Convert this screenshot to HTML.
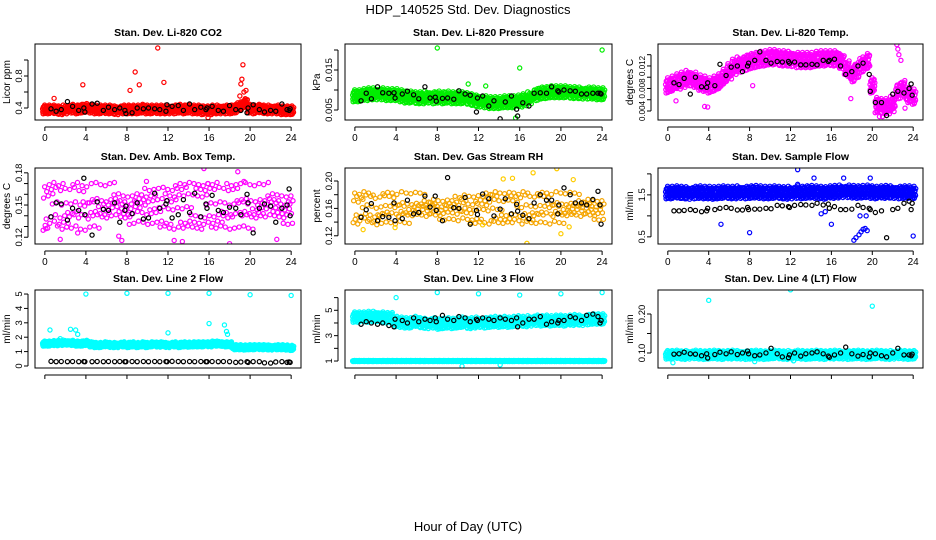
<!DOCTYPE html>
<html><head><meta charset="utf-8"><style>
body{margin:0;background:#fff;}
svg{display:block;font-family:"Liberation Sans",Arial,sans-serif;}
</style></head><body>
<svg id="chart" width="936" height="540" viewBox="0 0 936 540" xmlns="http://www.w3.org/2000/svg">
<rect width="936" height="540" fill="#fff"/>
<text x="468" y="14" font-size="13" text-anchor="middle">HDP_140525  Std. Dev. Diagnostics</text>
<text x="468" y="531" font-size="13" text-anchor="middle">Hour of Day (UTC)</text>
</svg>
<script>
// ---- data ----
const xTicks=[0,4,8,12,16,20,24];
const blackHours=[0.6,1.1,1.6,2.2,2.7,3.3,3.8,3.9,4.6,5.1,5.7,6.2,6.8,7.3,7.8,7.9,8.5,9.0,9.6,10.1,10.7,11.2,11.8,11.9,12.4,13.0,13.5,14.1,14.6,15.2,15.7,15.8,16.3,16.9,17.4,18.0,18.6,19.1,19.7,19.8,20.3,20.9,21.4,22.0,22.5,23.1,23.6,23.8,23.9];

const co2Center=[0.38,0.38,0.38,0.37,0.38,0.39,0.38,0.39,0.40,0.39,0.38,0.38,0.38,0.38,0.37,0.38,0.38,0.38,0.38,0.39,0.38,0.38,0.38,0.38,0.38,0.38,0.39,0.38,0.39,0.38,0.38,0.37,0.37,0.38,0.38,0.38,0.38,0.39,0.42,0.46,0.39,0.38,0.39,0.38,0.38,0.38,0.37,0.37,0.37];
const co2Black=[0.39,0.36,0.38,0.48,0.42,0.37,0.40,0.35,0.45,0.46,0.37,0.41,0.38,0.40,0.37,0.33,0.34,0.40,0.39,0.40,0.39,0.38,0.36,0.44,0.42,0.43,0.37,0.45,0.38,0.41,0.38,0.40,0.42,0.37,0.36,0.43,0.38,0.37,0.34,0.40,0.44,0.38,0.35,0.37,0.36,0.45,0.38,0.37,0.39];
const co2Outliers=[[0.9,0.52],[3.7,0.69],[8.3,0.62],[8.8,0.85],[9.2,0.69],[11.0,1.15],[11.6,0.72],[19.3,0.94],[19.2,0.76],[19.1,0.70],[19.4,0.60],[19.0,0.55],[19.6,0.62],[15.9,0.28]];

const presCenter=[0.0085,0.0085,0.0088,0.0090,0.0090,0.0090,0.0088,0.0088,0.0088,0.0085,0.0082,0.0082,0.0080,0.0080,0.0082,0.0080,0.0082,0.0080,0.0082,0.0080,0.0080,0.0080,0.0078,0.0075,0.0072,0.0070,0.0068,0.0068,0.0068,0.0070,0.0070,0.0070,0.0072,0.0075,0.0080,0.0088,0.0092,0.0093,0.0095,0.0095,0.0095,0.0095,0.0093,0.0093,0.0092,0.0092,0.0092,0.0090,0.0090];
const presBlack=[0.0073,0.0092,0.0078,0.0108,0.0093,0.0092,0.0093,0.0080,0.0090,0.0097,0.0088,0.0078,0.0108,0.0080,0.0082,0.0072,0.0079,0.0080,0.0077,0.0098,0.0090,0.0087,0.0045,0.0080,0.0085,0.0060,0.0073,0.0028,0.0070,0.0085,0.0052,0.0035,0.0068,0.0060,0.0092,0.0093,0.0092,0.0108,0.0098,0.0095,0.0100,0.0098,0.0097,0.0090,0.0090,0.0092,0.0092,0.0092,0.0090];
const presOutliers=[[8.0,0.0205],[16.0,0.0155],[24.0,0.0200],[11.0,0.0115],[12.7,0.0110],[15.6,0.0030]];

const tempCenter=[0.0085,0.0088,0.0092,0.0095,0.0098,0.0095,0.0090,0.0088,0.0085,0.0088,0.0092,0.0100,0.0110,0.0118,0.0122,0.0125,0.0128,0.0130,0.0132,0.0133,0.0135,0.0135,0.0133,0.0133,0.0132,0.0130,0.0130,0.0130,0.0130,0.0132,0.0133,0.0133,0.0133,0.0133,0.0128,0.0115,0.0105,0.0112,0.0122,0.0128,0.0085,0.0050,0.0048,0.0048,0.0052,0.0075,0.0080,0.0068,0.0065];
const tempBlack=[0.0090,0.0087,0.0098,0.0070,0.0100,0.0083,0.0082,0.0090,0.0085,0.0123,0.0103,0.0118,0.0120,0.0110,0.0120,0.0125,0.0130,0.0145,0.0130,0.0125,0.0128,0.0127,0.0128,0.0125,0.0127,0.0122,0.0122,0.0123,0.0122,0.0130,0.0128,0.0130,0.0132,0.0120,0.0105,0.0110,0.0120,0.0125,0.0105,0.0075,0.0055,0.0055,0.0032,0.0070,0.0075,0.0072,0.0080,0.0088,0.0068];
const tempOutliers=[[0.8,0.0058],[3.6,0.0048],[3.9,0.0047],[8.3,0.0085],[22.4,0.0158],[22.5,0.0150],[22.6,0.0140],[22.8,0.0130],[23.2,0.0045],[21.0,0.0030],[20.7,0.0030],[17.9,0.0062]];

const boxCenter=[0.146,0.148,0.150,0.147,0.149,0.148,0.150,0.147,0.146,0.149,0.150,0.148,0.147,0.149,0.150,0.148,0.147,0.148,0.150,0.149,0.147,0.148,0.149,0.150,0.148,0.147,0.149,0.148,0.150,0.149,0.148,0.147,0.149,0.148,0.150,0.149,0.147,0.148,0.149,0.150,0.148,0.147,0.149,0.148,0.150,0.149,0.148,0.147,0.148];
const boxBlack=[0.139,0.152,0.151,0.136,0.147,0.145,0.175,0.141,0.122,0.153,0.146,0.145,0.152,0.134,0.145,0.149,0.142,0.152,0.137,0.138,0.161,0.147,0.151,0.154,0.138,0.141,0.155,0.143,0.161,0.139,0.151,0.147,0.159,0.145,0.143,0.148,0.147,0.141,0.160,0.152,0.124,0.147,0.151,0.149,0.134,0.147,0.150,0.165,0.140];
const boxOutliers=[[0.1,0.128],[1.5,0.118],[7.2,0.121],[9.9,0.172],[12.6,0.117],[13.4,0.116],[15.5,0.184],[15.9,0.170],[18.0,0.114],[18.8,0.181],[19.4,0.172],[22.6,0.118],[7.5,0.117],[3.2,0.124]];

const rhCenter=[0.160,0.158,0.162,0.160,0.157,0.159,0.161,0.160,0.158,0.162,0.160,0.159,0.161,0.160,0.158,0.162,0.160,0.159,0.161,0.160,0.158,0.162,0.160,0.159,0.161,0.160,0.158,0.162,0.160,0.159,0.161,0.160,0.158,0.162,0.160,0.159,0.161,0.160,0.158,0.162,0.160,0.159,0.161,0.160,0.158,0.162,0.160,0.159,0.160];
const rhBlack=[0.147,0.158,0.167,0.142,0.148,0.147,0.168,0.142,0.145,0.172,0.152,0.154,0.178,0.162,0.178,0.157,0.142,0.205,0.161,0.160,0.176,0.137,0.157,0.151,0.181,0.174,0.149,0.159,0.174,0.152,0.166,0.156,0.150,0.145,0.168,0.180,0.172,0.172,0.152,0.165,0.190,0.180,0.168,0.168,0.165,0.173,0.185,0.165,0.137];
const rhOutliers=[[0.8,0.129],[3.9,0.132],[11.2,0.137],[12.4,0.136],[16.7,0.109],[17.3,0.212],[19.6,0.218],[20.0,0.123],[21.2,0.202],[14.4,0.203],[15.3,0.204],[20.8,0.133]];

const flowCenter=[1.55,1.55,1.56,1.55,1.54,1.55,1.56,1.55,1.55,1.54,1.55,1.56,1.55,1.55,1.56,1.55,1.56,1.57,1.56,1.55,1.55,1.56,1.55,1.54,1.55,1.56,1.55,1.56,1.57,1.56,1.55,1.54,1.56,1.57,1.58,1.58,1.57,1.56,1.57,1.58,1.56,1.55,1.56,1.57,1.56,1.55,1.56,1.56,1.55];
const flowBlack=[1.12,1.12,1.13,1.15,1.13,1.10,1.12,1.18,1.15,1.18,1.20,1.18,1.14,1.14,1.20,1.15,1.16,1.16,1.18,1.17,1.25,1.24,1.22,1.20,1.25,1.27,1.26,1.25,1.30,1.26,1.28,1.18,1.22,1.15,1.15,1.16,1.25,1.20,1.18,1.15,1.08,1.12,0.48,1.15,1.18,1.30,1.35,1.15,1.30];
const flowOutliers=[[5.2,0.80],[8.0,0.60],[12.7,2.10],[16.0,0.80],[18.2,0.42],[18.4,0.48],[18.7,0.55],[18.9,0.62],[19.1,0.68],[19.3,0.70],[19.5,0.65],[18.8,1.00],[19.4,1.00],[15.0,1.05],[15.4,1.10],[24.0,0.52],[12.7,1.75],[14.3,1.90],[17.2,1.90],[19.8,1.90]];

const l2Center=[1.55,1.55,1.58,1.60,1.62,1.60,1.55,1.55,1.60,1.50,1.45,1.45,1.50,1.45,1.45,1.50,1.45,1.50,1.45,1.50,1.45,1.50,1.48,1.50,1.45,1.50,1.45,1.50,1.48,1.50,1.50,1.50,1.50,1.55,1.55,1.50,1.50,1.30,1.30,1.28,1.30,1.30,1.30,1.30,1.28,1.30,1.30,1.28,1.25];
const l2Black=[0.32,0.30,0.31,0.30,0.31,0.30,0.31,0.30,0.30,0.31,0.30,0.31,0.30,0.31,0.30,0.30,0.31,0.30,0.31,0.30,0.31,0.30,0.31,0.30,0.32,0.31,0.30,0.31,0.30,0.31,0.30,0.30,0.31,0.30,0.31,0.30,0.25,0.28,0.30,0.25,0.30,0.30,0.22,0.20,0.28,0.30,0.25,0.28,0.25];
const l2Outliers=[[0.5,2.50],[1.5,1.90],[2.5,2.55],[3.0,2.50],[3.2,2.20],[4.0,5.00],[8.0,5.05],[12.0,2.30],[12.0,5.05],[16.0,2.95],[16.0,5.05],[17.5,2.85],[17.7,2.40],[17.8,2.20],[20.0,4.95],[24.0,4.90]];

const l3Center=[4.45,4.45,4.45,4.50,4.50,4.45,4.40,4.40,4.10,4.05,4.00,4.00,4.10,4.00,3.95,4.00,3.90,3.95,4.00,3.95,4.00,4.05,3.95,4.00,4.05,4.00,4.05,4.10,4.05,4.10,4.05,4.10,4.15,4.10,4.15,4.20,4.15,4.20,4.15,4.20,4.20,4.15,4.20,4.25,4.20,4.25,4.30,4.30,4.30];
const l3LowCenter=[1.00,1.00,1.00,1.00,1.00,1.00,1.00,1.00,1.00,1.00,1.00,1.00,1.00,1.00,1.00,1.00,1.00,1.00,1.00,1.00,1.00,1.00,1.00,1.00,1.00,1.00,1.00,1.00,1.00,1.00,1.00,1.00,1.00,1.00,1.00,1.00,1.00,1.00,1.00,1.00,1.00,1.00,1.00,1.00,1.00,1.00,1.00,1.00,1.00];
const l3Black=[3.90,4.10,4.00,3.90,4.00,3.80,3.70,4.30,4.20,4.00,4.40,4.10,4.30,4.20,4.40,4.10,4.60,4.30,4.20,4.50,4.40,4.10,4.30,4.20,4.40,4.30,4.20,4.40,4.30,4.20,4.40,3.70,4.00,4.30,4.30,4.50,3.90,4.10,4.00,4.20,4.20,4.50,4.40,4.20,4.60,4.70,4.50,4.00,4.20];
const l3Outliers=[[4.0,6.00],[8.0,6.40],[12.0,6.30],[16.0,6.20],[20.0,6.30],[24.0,6.40],[10.4,0.60],[14.1,0.70]];

const l4Center=[0.095,0.095,0.096,0.094,0.095,0.096,0.095,0.094,0.095,0.096,0.095,0.094,0.095,0.096,0.095,0.094,0.095,0.096,0.095,0.094,0.095,0.096,0.095,0.094,0.095,0.096,0.095,0.094,0.095,0.096,0.095,0.094,0.095,0.096,0.095,0.094,0.095,0.096,0.095,0.094,0.095,0.096,0.095,0.094,0.095,0.096,0.095,0.094,0.095];
const l4Black=[0.097,0.098,0.102,0.098,0.097,0.093,0.098,0.087,0.096,0.102,0.098,0.103,0.096,0.100,0.105,0.098,0.093,0.095,0.100,0.112,0.098,0.090,0.088,0.095,0.100,0.092,0.098,0.100,0.103,0.098,0.092,0.089,0.095,0.100,0.115,0.098,0.092,0.096,0.090,0.100,0.098,0.093,0.090,0.100,0.112,0.095,0.095,0.093,0.097];
const l4Outliers=[[4.0,0.235],[12.0,0.262],[20.0,0.220],[0.5,0.075],[8.5,0.078],[12.3,0.080]];

// ---- layout ----
const cols=[[35,301],[345,612],[658,923]];
const rows=[[44,120],[168,244],[290,368]];
const panels=[
 {name:'co2',title:'Stan. Dev. Li-820 CO2',ylab:'Licor ppm',c:0,r:0,ymin:0.25,ymax:1.2,ticks:[0.4,0.6,0.8,1.0],labels:{0.4:'0.4',0.8:'0.8'},clouds:[[co2Center,0.04,'#ff0000',2]],black:co2Black,out:co2Outliers,oc:'#ff0000'},
 {name:'pressure',title:'Stan. Dev. Li-820 Pressure',ylab:'kPa',c:1,r:0,ymin:0.0025,ymax:0.0215,ticks:[0.005,0.010,0.015,0.020],labels:{0.005:'0.005',0.015:'0.015'},clouds:[[presCenter,0.0011,'#00ee00',2]],black:presBlack,out:presOutliers,oc:'#00ee00'},
 {name:'li820-temp',title:'Stan. Dev. Li-820 Temp.',ylab:'degrees C',c:2,r:0,ymin:0.0024,ymax:0.0159,ticks:[0.004,0.006,0.008,0.010,0.012,0.014],labels:{0.004:'0.004',0.008:'0.008',0.012:'0.012'},lfs:8,clouds:[[tempCenter,0.001,'#ff00ff',2]],black:tempBlack,out:tempOutliers,oc:'#ff00ff'},
 {name:'box-temp',title:'Stan. Dev. Amb. Box Temp.',ylab:'degrees C',c:0,r:1,ymin:0.1137,ymax:0.1845,ticks:[0.12,0.13,0.14,0.15,0.16,0.17,0.18],labels:{0.12:'0.12',0.15:'0.15',0.18:'0.18'},clouds:[[boxCenter,0.015,'#ff00ff',1]],black:boxBlack,out:boxOutliers,oc:'#ff00ff'},
 {name:'gas-rh',title:'Stan. Dev. Gas Stream RH',ylab:'percent',c:1,r:1,ymin:0.108,ymax:0.219,ticks:[0.12,0.14,0.16,0.18,0.20],labels:{0.12:'0.12',0.16:'0.16',0.20:'0.20'},clouds:[[rhCenter,0.016,'#f5a500',1]],black:rhBlack,out:rhOutliers,oc:'#ffcc00'},
 {name:'sample-flow',title:'Stan. Dev. Sample Flow',ylab:'ml/min',c:2,r:1,ymin:0.33,ymax:2.14,ticks:[0.5,1.0,1.5,2.0],labels:{0.5:'0.5',1.5:'1.5'},clouds:[[flowCenter,0.11,'#0000ff',2]],black:flowBlack,out:flowOutliers,oc:'#0000ff'},
 {name:'line2-flow',title:'Stan. Dev. Line 2 Flow',ylab:'ml/min',c:0,r:2,ymin:-0.14,ymax:5.28,ticks:[0,1,2,3,4,5],labels:{0:'0',1:'1',2:'2',3:'3',4:'4',5:'5'},clouds:[[l2Center,0.13,'#00ffff',2]],black:l2Black,out:l2Outliers,oc:'#00ffff',nox:true},
 {name:'line3-flow',title:'Stan. Dev. Line 3 Flow',ylab:'ml/min',c:1,r:2,ymin:0.45,ymax:6.6,ticks:[1,2,3,4,5,6],labels:{1:'1',3:'3',5:'5'},clouds:[[l3Center,0.3,'#00ffff',2],[l3LowCenter,0.03,'#00ffff',2]],black:l3Black,out:l3Outliers,oc:'#00ffff',nox:true},
 {name:'line4-flow',title:'Stan. Dev. Line 4 (LT) Flow',ylab:'ml/min',c:2,r:2,ymin:0.0615,ymax:0.2615,ticks:[0.10,0.15,0.20],labels:{0.1:'0.10',0.2:'0.20'},clouds:[[l4Center,0.008,'#00ffff',2]],black:l4Black,out:l4Outliers,oc:'#00ffff',nox:true}
];
const jx=[-0.22,-0.17,-0.12,-0.07,-0.02,0.03,0.08,0.13,0.18,0.23];
const jy1=[0.2,-1.3,0.7,-0.4,1.4,-1.0,0.4,-0.6,1.1,-0.1];
const jy2=[-0.7,0.8,-0.2,1.0,-1.2,0.3,-0.4,0.9,-0.8,0.5];
const NS='http://www.w3.org/2000/svg';
const svg=document.getElementById('chart');
function mk(tag,attrs,parent){const e=document.createElementNS(NS,tag);for(const k in attrs)e.setAttribute(k,attrs[k]);(parent||svg).appendChild(e);return e;}

panels.forEach(p=>{
  const [x0,x1]=cols[p.c],[y0,y1]=rows[p.r];
  const xs=h=>x0+(h+0.96)/25.92*(x1-x0);
  const ys=v=>y1-(v-p.ymin)/(p.ymax-p.ymin)*(y1-y0);
  const g=mk('g',{});
  
  
  const clip=mk('clipPath',{id:'clip-'+p.name},g);
  mk('rect',{x:x0,y:y0,width:x1-x0,height:y1-y0},clip);
  const pts=mk('g',{'clip-path':'url(#clip-'+p.name+')',fill:'none','stroke-width':1.2},g);
  
  
  p.clouds.forEach(cl=>{
    const [center,spread,color,sets]=cl;
    const patterns=sets===1?[jy1]:[jy1,jy2];
    center.forEach((v,i)=>{
      const h=i*0.5;
      patterns.forEach((jy,pi)=>{
        jx.forEach((dx,k)=>{
          if(sets===1 && (k+i)%3===0) return;
          mk('circle',{cx:xs(h+dx+pi*0.02),cy:ys(v+spread*jy[(k+i)%10]),r:2.1,stroke:color},pts);
        });
      });
    });
  });
  p.out.forEach(o=>{
    const c=mk('circle',{cx:xs(o[0]),cy:ys(o[1]),r:2.1,stroke:p.oc},pts);
    
    
  });
  p.black.forEach((v,i)=>{
    const c=mk('circle',{cx:xs(blackHours[i]),cy:ys(v),r:2.1,stroke:'#000'},pts);
    
    
  });
  const box=mk('rect',{x:x0,y:y0,width:x1-x0,height:y1-y0,fill:'none',stroke:'#000','stroke-width':1},g);
  
  
  const t=mk('text',{x:(x0+x1)/2,y:y0-8,'font-size':10.5,'font-weight':'bold','text-anchor':'middle'},g);
  t.textContent=p.title;
  
  
  const yl=mk('text',{x:0,y:0,'font-size':10,'text-anchor':'middle',transform:`translate(${x0-25},${(y0+y1)/2}) rotate(-90)`},g);
  yl.textContent=p.ylab;
  
  
  mk('line',{x1:xs(0),x2:xs(24),y1:y1+7,y2:y1+7,stroke:'#000'},g);
  xTicks.forEach(h=>{
    mk('line',{x1:xs(h),x2:xs(h),y1:y1+7,y2:y1+11,stroke:'#000'},g);
    if(!p.nox){const l=mk('text',{x:xs(h),y:y1+21,'font-size':10,'text-anchor':'middle'},g);l.textContent=h;
      
      }
  });
  mk('line',{x1:x0-7,x2:x0-7,y1:ys(p.ticks[0]),y2:ys(p.ticks[p.ticks.length-1]),stroke:'#000'},g);
  p.ticks.forEach(v=>{
    mk('line',{x1:x0-11,x2:x0-7,y1:ys(v),y2:ys(v),stroke:'#000'},g);
    const lab=p.labels[v];
    if(lab!==undefined){const l=mk('text',{x:0,y:0,'font-size':p.lfs||9.5,'text-anchor':'middle',transform:`translate(${x0-13},${ys(v)}) rotate(-90)`},g);l.textContent=lab;
      
      }
  });
});
</script>
</body></html>
